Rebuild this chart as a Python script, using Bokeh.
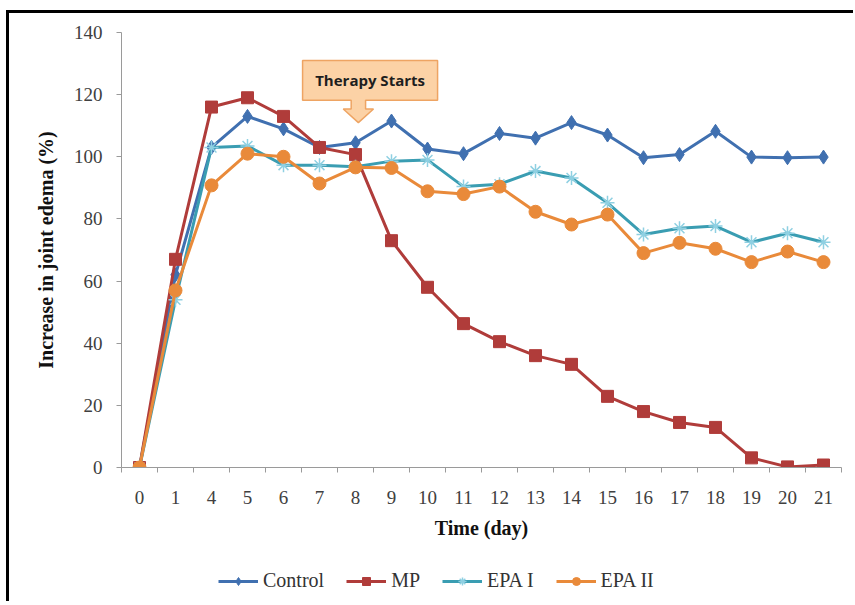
from bokeh.plotting import figure
from bokeh.layouts import column
from bokeh.models import (FixedTicker, Legend, LegendItem, ColumnDataSource, Label)
from bokeh.embed import file_html
from bokeh.resources import INLINE

days = ["0", "1", "4", "5", "6", "7", "8", "9", "10", "11", "12", "13", "14",
        "15", "16", "17", "18", "19", "20", "21"]
control = [0, 62, 103, 113, 109, 103, 104.5, 111.5, 102.5, 101, 107.5, 106,
           111, 107, 99.7, 100.7, 108.2, 99.9, 99.7, 99.9]
mp = [0, 67, 116, 119, 113, 103, 100.7, 73, 58, 46.3, 40.5, 36, 33.2, 22.9,
      18, 14.5, 12.9, 3.1, 0.2, 0.8]
epa1 = [0, 54, 103, 103.5, 97.3, 97.3, 96.8, 98.6, 99, 90.4, 91.2, 95.4,
        93.2, 85.2, 75, 77, 77.7, 72.5, 75.4, 72.5]
epa2 = [0, 57, 90.8, 101, 100, 91.4, 96.6, 96.4, 88.9, 88, 90.4, 82.3, 78.2,
        81.4, 69, 72.3, 70.4, 66.1, 69.5, 66.1]
series_names = ["Control", "MP", "EPA I", "EPA II"]
y_ticks = [0, 20, 40, 60, 80, 100, 120, 140]
therapy_day = "8"
callout_text = "Therapy Starts"

xi = list(range(len(days)))
src = ColumnDataSource(dict(x=xi, control=control, mp=mp, epa1=epa1, epa2=epa2))

serif = "Liberation Serif"
p = figure(width=844, height=542, output_backend="svg", toolbar_location=None,
           x_range=(-0.5, len(days) - 0.5), y_range=(0, 140),
           min_border_left=112, min_border_right=12, min_border_top=19,
           min_border_bottom=88)
p.outline_line_color = None
p.xgrid.grid_line_color = None
p.ygrid.grid_line_color = None
p.background_fill_color = "white"
p.border_fill_color = "white"

# axes
p.xaxis.ticker = FixedTicker(ticks=xi, minor_ticks=[i + 0.5 for i in range(-1, len(days))])
p.xaxis.major_label_overrides = {i: d for i, d in enumerate(days)}
p.xaxis.major_tick_line_color = None
p.xaxis.minor_tick_in = 0
p.xaxis.minor_tick_out = 5
p.xaxis.minor_tick_line_color = "#9a9a9a"
p.xaxis.axis_line_color = "#9a9a9a"
p.xaxis.major_label_standoff = 17
p.xaxis.major_label_text_font = serif
p.xaxis.major_label_text_font_size = "19px"
p.xaxis.major_label_text_color = "#404040"
p.xaxis.axis_label = "Time (day)"
p.xaxis.axis_label_text_font = serif
p.xaxis.axis_label_text_font_style = "bold"
p.xaxis.axis_label_text_font_size = "20px"
p.xaxis.axis_label_text_color = "#111111"
p.xaxis.axis_label_standoff = 10

p.yaxis.ticker = FixedTicker(ticks=y_ticks)
p.yaxis.minor_tick_line_color = None
p.yaxis.major_tick_in = 0
p.yaxis.major_tick_out = 5
p.yaxis.major_tick_line_color = "#9a9a9a"
p.yaxis.axis_line_color = "#9a9a9a"
p.yaxis.major_label_standoff = 14
p.yaxis.major_label_text_font = serif
p.yaxis.major_label_text_font_size = "19px"
p.yaxis.major_label_text_color = "#404040"
p.yaxis.axis_label = "Increase in joint edema (%)"
p.yaxis.axis_label_text_font = serif
p.yaxis.axis_label_text_font_style = "bold"
p.yaxis.axis_label_text_font_size = "20px"
p.yaxis.axis_label_text_color = "#111111"
p.yaxis.axis_label_standoff = 14

c_ctrl, c_mp, c_e1, c_e2 = "#4070b0", "#b03c3a", "#3a9db2", "#e98a3a"
styles = [
    dict(col=c_ctrl, marker="diamond", size=14, fill=c_ctrl, mline=c_ctrl, mlw=1),
    dict(col=c_mp, marker="square", size=12, fill=c_mp, mline=c_mp, mlw=1),
    dict(col=c_e1, marker="asterisk", size=14, fill=None, mline="#8fd0e2", mlw=1.5),
    dict(col=c_e2, marker="circle", size=13, fill=c_e2, mline=c_e2, mlw=1),
]
cols = ["control", "mp", "epa1", "epa2"]
lw = 3
for c, s in zip(cols, styles):
    p.line("x", c, source=src, line_color=s["col"], line_width=lw)
    p.scatter("x", c, source=src, marker=s["marker"], size=s["size"],
              fill_color=s["fill"], line_color=s["mline"], line_width=s["mlw"])

# callout annotation pointing at therapy start
t = days.index(therapy_day) + 0.08
bx0, bx1, by0, by1 = t - 1.55, t + 2.2, 118.2, 131
neck_w, head_w = 0.2, 0.42
neck_y, tip_y = 115.4, 111
cx = [bx0, bx1, bx1, t + neck_w, t + neck_w, t + head_w, t, t - head_w,
      t - neck_w, t - neck_w, bx0]
cy = [by1, by1, by0, by0, neck_y, neck_y, tip_y, neck_y, neck_y, by0, by0]
p.patch(cx, cy, fill_color="#fcd2a6", line_color="#eea463", line_width=1.5)
p.add_layout(Label(x=(bx0 + bx1) / 2, y=(by0 + by1) / 2, text=callout_text,
                   text_font="Open Sans", text_font_style="bold",
                   text_font_size="15px", text_color="#1e1e1e",
                   text_align="center", text_baseline="middle"))

# legend strip below the chart
nan = float("nan")
p2 = figure(width=844, height=46, output_backend="svg", toolbar_location=None,
            x_range=(0, 1), y_range=(0, 1), min_border=0,
            x_axis_location=None, y_axis_location=None)
p2.grid.grid_line_color = None
p2.outline_line_color = None
items = []
for name, s in zip(series_names, styles):
    rl = p2.line([nan], [nan], line_color=s["col"], line_width=lw)
    rm = p2.scatter([nan], [nan], marker=s["marker"], size=s["size"] * 0.75,
                    fill_color=s["fill"], line_color=s["mline"], line_width=s["mlw"])
    items.append(LegendItem(label=name, renderers=[rl, rm]))
legend = Legend(items=items, orientation="horizontal", location=(97, 9),
                padding=0, margin=0, spacing=22, label_standoff=5,
                glyph_width=40, glyph_height=20,
                label_text_font=serif, label_text_font_size="20px",
                label_text_color="#333333", border_line_color=None,
                background_fill_alpha=0)
p2.add_layout(legend, "center")

layout = column(p, p2, spacing=0,
                styles={"margin-left": "6px", "margin-top": "10px",
                        "border-top": "3px solid black",
                        "border-left": "3px solid black"})

open("out.html", "w").write(file_html(layout, INLINE))
